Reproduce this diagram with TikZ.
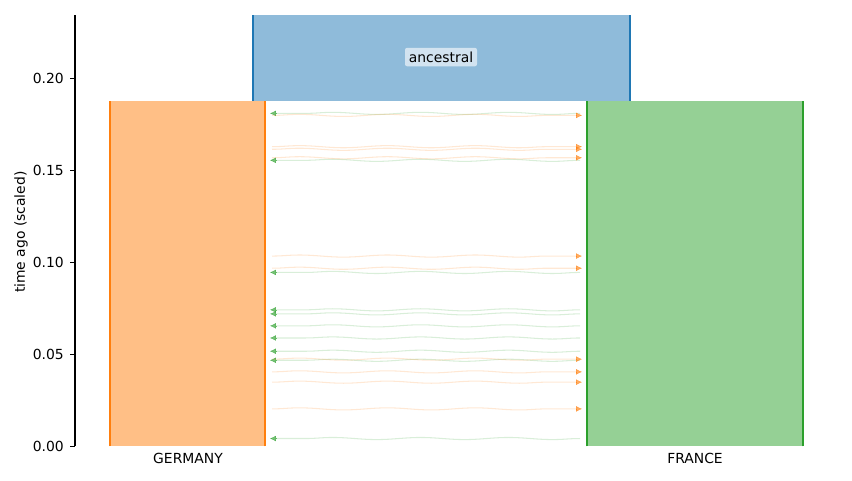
\documentclass[tikz,border=0pt]{standalone}
\usepackage{fontspec}
\setmainfont{DejaVu Sans}
\usetikzlibrary{arrows.meta,decorations.pathmorphing}
\definecolor{tabblue}{HTML}{1F77B4}
\definecolor{taborange}{HTML}{FF7F0E}
\definecolor{tabgreen}{HTML}{2CA02C}

\begin{document}
\begin{tikzpicture}[x=0.01cm,y=18.4cm,>=Stealth,
  every node/.style={font=\fontsize{3.95}{4.7}\selectfont},
  deme/.style={line width=0.4pt},
  mig/.style={line width=0.3pt,draw opacity=0.18,decorate,
    decoration={snake,segment length=25pt,amplitude=0.3pt}},
  tip/.style={line width=0.1pt,opacity=0.65,-{Latex[length=1.7pt,width=1.6pt]}}]
\useasboundingbox (0,-0.018478) rectangle (852,0.242391);
% demes
\fill[tabblue!50] (253,0.1875) rectangle (630,0.23424);
\draw[deme,tabblue] (253,0.1875)--(253,0.23424) (630,0.1875)--(630,0.23424);
\fill[taborange!50] (110,0) rectangle (265,0.1875);
\draw[deme,taborange] (110,0)--(110,0.1875) (265,0)--(265,0.1875);
\fill[tabgreen!50] (587,0) rectangle (803,0.1875);
\draw[deme,tabgreen] (587,0)--(587,0.1875) (803,0)--(803,0.1875);
\node[fill=white,fill opacity=0.6,text opacity=1,rounded corners=0.6pt,
  inner sep=1.1pt] (anc) at (441,0.2114) {ancestral};
% migrations FRANCE -> GERMANY
\foreach \t in {0.1808,0.1553,0.0944,0.0741,0.0719,0.0654,0.0588,0.0516,0.0467,0.0042}{
  \draw[mig,tabgreen] (580,\t)--(276,\t);
  \draw[tip,tabgreen] (276,\t)--(270,\t);
}
% migrations GERMANY -> FRANCE
\foreach \t in {0.1797,0.1627,0.1613,0.1567,0.1033,0.0967,0.0473,0.0404,0.0348,0.0203}{
  \draw[mig,taborange] (272,\t)--(576,\t);
  \draw[tip,taborange] (576,\t)--(582,\t);
}
% axis
\draw[line width=0.3pt] (75,0)--(75,0.23424);
\foreach \v/\l in {0/0.00,0.05/0.05,0.1/0.10,0.15/0.15,0.2/0.20}{
  \draw[line width=0.3pt] (70.1,\v)--(75,\v);
  \node[anchor=east,inner sep=0pt] at (64.5,\v) {\l};
}
\node[rotate=90] (ylab) at (21,0.1163) {time ago (scaled)};
\node (lblger) at (188,-0.0065) {GERMANY};
\node (lblfra) at (695,-0.0065) {FRANCE};
\end{tikzpicture}
\end{document}
